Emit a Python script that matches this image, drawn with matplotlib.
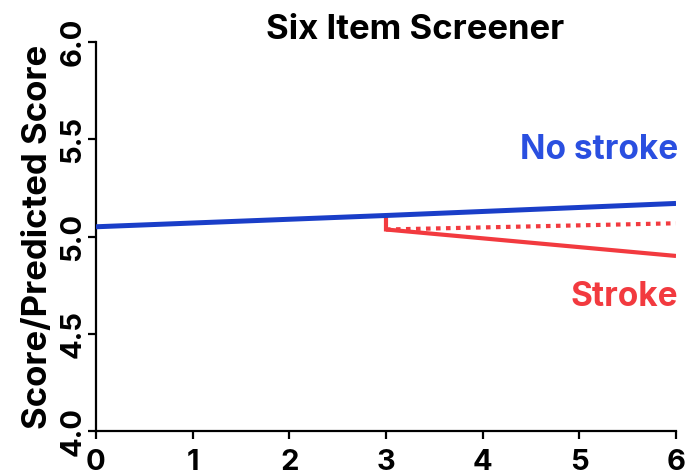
import matplotlib.pyplot as plt

# visit times and scores
x_all = [0, 3, 6]
no_stroke = [5.05, 5.108, 5.17]

x_stroke = [3, 3, 6]
stroke = [5.108, 5.036, 4.90]

x_pred = [3, 6]
predicted = [5.036, 5.068]

xticks = [0, 1, 2, 3, 4, 5, 6]
yticks = [4.0, 4.5, 5.0, 5.5, 6.0]

plt.rcParams['font.family'] = ['Inter', 'Liberation Sans', 'DejaVu Sans']

blue = '#1a3ec8'
red = '#f23a3f'

fig = plt.figure(figsize=(6.87, 4.75), dpi=100)
ax = fig.add_axes([0.1397, 0.0926, 0.8443, 0.819])

ax.plot(x_all, no_stroke, color=blue, lw=3.6, solid_capstyle='butt', zorder=3)
ax.plot(x_stroke, stroke, color=red, lw=3.0, solid_capstyle='butt', solid_joinstyle='miter', zorder=2)
ax.plot(x_pred, predicted, color=red, lw=3.0, ls=(0, (1.1, 1.3)), zorder=2)

ax.set_xlim(0, 6)
ax.set_ylim(4.0, 6.0)
ax.set_xticks(xticks)
ax.set_yticks(yticks)
ax.set_xticklabels([str(t) for t in xticks], fontsize=21, fontweight='bold')
ax.set_yticklabels(['%.1f' % t for t in yticks], fontsize=21, fontweight='bold',
                   rotation=90, va='center')

for s in ['top', 'right']:
    ax.spines[s].set_visible(False)
for s in ['left', 'bottom']:
    ax.spines[s].set_linewidth(1.6)
ax.tick_params(direction='out', length=6, width=1.6)
ax.tick_params(axis='x', pad=7)
ax.tick_params(axis='y', pad=1)

ax.set_ylabel('Score/Predicted Score', fontsize=25, fontweight='bold', labelpad=4)

ax.text(3.3, 6.06, 'Six Item Screener', fontsize=25, fontweight='bold',
        ha='center', va='center', clip_on=False)
ax.text(6.02, 5.447, 'No stroke', color='#2a4fe0', fontsize=24, fontweight='bold',
        ha='right', va='center', clip_on=False)
ax.text(6.02, 4.69, 'Stroke', color=red, fontsize=24, fontweight='bold',
        ha='right', va='center', clip_on=False)

fig.savefig('out.png', dpi=100)
